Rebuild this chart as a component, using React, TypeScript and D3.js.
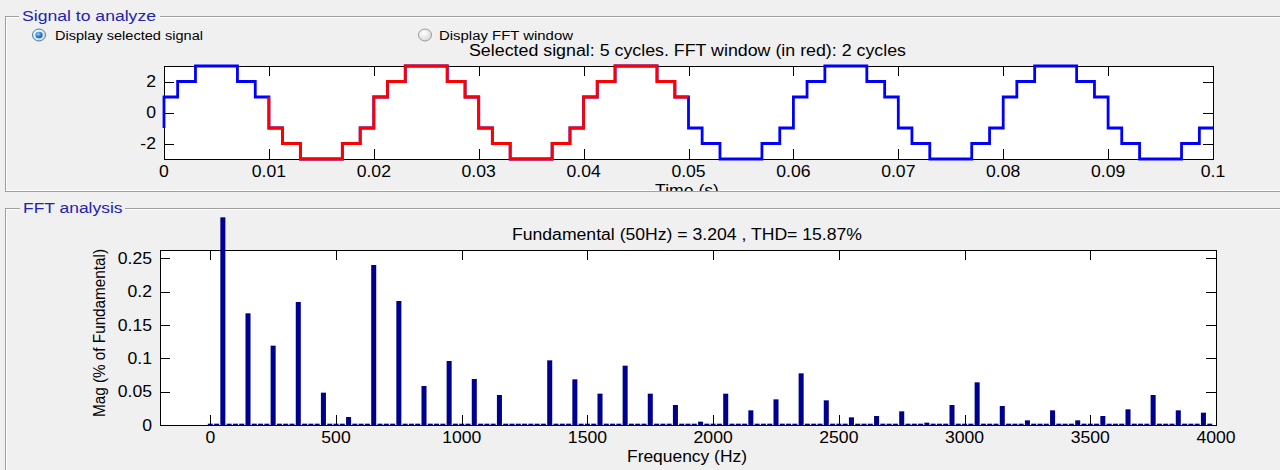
import React from "react";
import * as d3 from "d3";

// ---------- DATA ----------
// One cycle of the stepped signal: switching instants (s) within a 20 ms period and the level after each switch
const cycleSwitchTimes = [0, 0.0013, 0.003, 0.007, 0.0087, 0.01, 0.0113, 0.013, 0.017, 0.0187];
const cycleLevels = [1, 2, 3, 2, 1, -1, -2, -3, -2, -1];
const signalPeriod = 0.02;
const signalCycles = 5;
const fftWindowStart = 0.01;
const fftWindowEnd = 0.05;
const timeTicks = [0, 0.01, 0.02, 0.03, 0.04, 0.05, 0.06, 0.07, 0.08, 0.09, 0.1];
const timeTickLabels = ["0", "0.01", "0.02", "0.03", "0.04", "0.05", "0.06", "0.07", "0.08", "0.09", "0.1"];
const levelTicks = [-2, 0, 2];

// FFT: odd-harmonic frequencies (Hz) and magnitudes
const harmonicFreqs = [
  50, 150, 250, 350, 450, 550, 650, 750, 850, 950, 1050, 1150, 1250, 1350, 1450, 1550, 1650, 1750, 1850, 1950,
  2050, 2150, 2250, 2350, 2450, 2550, 2650, 2750, 2850, 2950, 3050, 3150, 3250, 3350, 3450, 3550, 3650, 3750,
  3850, 3950,
];
const harmonicMags = [
  0.3115, 0.1675, 0.119, 0.1845, 0.0485, 0.012, 0.24, 0.186, 0.0585, 0.096, 0.069, 0.045, 0.002, 0.097, 0.0685,
  0.047, 0.089, 0.047, 0.03, 0.005, 0.047, 0.022, 0.0385, 0.0775, 0.037, 0.0115, 0.0135, 0.0205, 0.0035, 0.03,
  0.064, 0.0285, 0.007, 0.022, 0.007, 0.0135, 0.0235, 0.045, 0.022, 0.0185,
];
// every other 25 Hz bin (0 .. 3975 Hz) shows the same tiny residual
const binStep = 25;
const binMax = 3975;
const residualMag = 0.002;
const freqTicks = [0, 500, 1000, 1500, 2000, 2500, 3000, 3500, 4000];
const magTicks = [0, 0.05, 0.1, 0.15, 0.2, 0.25];
const magTickLabels = ["0", "0.05", "0.1", "0.15", "0.2", "0.25"];

// ---------- LAYOUT ----------
const W = 1280;
const H = 470;
const BG = "#f0f0f0";
const FONT = "'Liberation Sans', Arial, Helvetica, sans-serif";
const SX = 1.1; // horizontal stretch of the screenshot text
const TICK = 10;

const top = { x0: 164, x1: 1213, y0: 66, y1: 159 };
const bot = { x0: 160, x1: 1216, y0: 250, y1: 425 };

type Pt = { t: number; v: number };

function buildSignal(): Pt[] {
  const pts: Pt[] = [];
  let prev = cycleLevels[cycleLevels.length - 1];
  pts.push({ t: 0, v: prev });
  for (let c = 0; c < signalCycles; c++) {
    cycleSwitchTimes.forEach((st, i) => {
      const t = c * signalPeriod + st;
      pts.push({ t, v: prev });
      pts.push({ t, v: cycleLevels[i] });
      prev = cycleLevels[i];
    });
  }
  pts.push({ t: signalCycles * signalPeriod, v: prev });
  return pts;
}

function Txt(props: {
  x: number;
  y: number;
  anchor?: string;
  size?: number;
  sx?: number;
  fill?: string;
  len?: number;
  children: React.ReactNode;
}) {
  const { x, y, anchor = "start", size = 16, sx = SX, fill = "#000", len, children } = props;
  if (len) {
    return (
      <text
        x={x}
        y={y}
        textAnchor={anchor as any}
        fontSize={size}
        fontFamily={FONT}
        fill={fill}
        textLength={len}
        lengthAdjust="spacingAndGlyphs"
      >
        {children}
      </text>
    );
  }
  return (
    <text
      transform={`translate(${x},${y}) scale(${sx},1)`}
      textAnchor={anchor as any}
      fontSize={size}
      fontFamily={FONT}
      fill={fill}
    >
      {children}
    </text>
  );
}

function Radio({ cx, cy, on }: { cx: number; cy: number; on: boolean }) {
  return (
    <g>
      <ellipse cx={cx} cy={cy} rx={6.5} ry={6} fill="url(#radioBg)" stroke={on ? "#3c7fb1" : "#9a9a9a"} strokeWidth={1} />
      {on && <ellipse cx={cx} cy={cy} rx={3.6} ry={3.3} fill="url(#radioDot)" />}
    </g>
  );
}

export default function App() {
  const sig = buildSignal();
  const red = sig.filter(
    (p, i) =>
      p.t >= fftWindowStart - 1e-9 &&
      (p.t < fftWindowEnd - 1e-9 || (Math.abs(p.t - fftWindowEnd) < 1e-9 && sig[i - 1].t < fftWindowEnd - 1e-9))
  );

  const xT = d3.scaleLinear().domain([0, 0.1]).range([top.x0, top.x1]);
  const yT = d3.scaleLinear().domain([-3, 3]).range([top.y1, top.y0]);
  const line = d3
    .line<Pt>()
    .x((d) => xT(d.t))
    .y((d) => yT(d.v));

  const xF = d3.scaleLinear().domain([-200, 4000]).range([bot.x0, bot.x1]);
  const yF = d3.scaleLinear().domain([0, 0.2625]).range([bot.y1, bot.y0]);

  const bins = d3.range(0, binMax + 1, binStep).map((f) => {
    const hi = harmonicFreqs.indexOf(f);
    return { f, m: hi >= 0 ? harmonicMags[hi] : residualMag };
  });
  const barHalf = 10; // 0.8 of the 25 Hz bin

  const r = (v: number) => Math.round(v) + 0.5;

  return (
    <svg
      width={W}
      height={H}
      style={{ position: "absolute", left: 0, top: 0, display: "block" }}
      xmlns="http://www.w3.org/2000/svg"
    >
      <defs>
        <radialGradient id="radioBg" cx="40%" cy="35%" r="70%">
          <stop offset="0%" stopColor="#ffffff" />
          <stop offset="100%" stopColor="#d6d6d6" />
        </radialGradient>
        <radialGradient id="radioDot" cx="40%" cy="35%" r="70%">
          <stop offset="0%" stopColor="#8fd0ff" />
          <stop offset="60%" stopColor="#2a7ad0" />
          <stop offset="100%" stopColor="#104f9a" />
        </radialGradient>
        <clipPath id="topPanelClip">
          <rect x={0} y={0} width={W} height={191} />
        </clipPath>
      </defs>
      <rect x={0} y={0} width={W} height={H} fill={BG} />

      {/* ---------- Top panel ---------- */}
      <rect x={5.5} y={16.5} width={1300} height={175} fill="none" stroke="#a0a0a0" />
      <rect x={6.5} y={17.5} width={1300} height={173} fill="none" stroke="#ffffff" />
      <rect x={19} y={8} width={141} height={16} fill={BG} />
      <Txt x={22} y={21} size={14} fill="#2323b0" len={134}>
        Signal to analyze
      </Txt>
      <Radio cx={39} cy={35} on={true} />
      <Txt x={55} y={39.5} size={12.5} len={148}>
        Display selected signal
      </Txt>
      <Radio cx={425} cy={35} on={false} />
      <Txt x={439} y={39.5} size={12.5} len={134}>
        Display FFT window
      </Txt>
      <Txt x={687.5} y={56} anchor="middle" size={16} len={437}>
        Selected signal: 5 cycles. FFT window (in red): 2 cycles
      </Txt>

      <rect x={top.x0 + 0.5} y={top.y0 + 0.5} width={top.x1 - top.x0} height={top.y1 - top.y0} fill="#fff" stroke="#000" />
      {timeTicks.map((t) => (
        <g key={"tt" + t}>
          <line x1={r(xT(t))} x2={r(xT(t))} y1={top.y1} y2={top.y1 - TICK} stroke="#000" />
          <line x1={r(xT(t))} x2={r(xT(t))} y1={top.y0} y2={top.y0 + TICK} stroke="#000" />
        </g>
      ))}
      {levelTicks.map((v) => (
        <g key={"lt" + v}>
          <line x1={top.x0} x2={top.x0 + TICK} y1={r(yT(v))} y2={r(yT(v))} stroke="#000" />
          <line x1={top.x1} x2={top.x1 - TICK} y1={r(yT(v))} y2={r(yT(v))} stroke="#000" />
          <Txt x={156} y={yT(v) + 5.5} anchor="end">
            {String(v)}
          </Txt>
        </g>
      ))}
      {timeTicks.map((t, i) => (
        <Txt key={"tl" + t} x={xT(t)} y={177} anchor="middle">
          {timeTickLabels[i]}
        </Txt>
      ))}
      <path d={line(sig) || ""} fill="none" stroke="#0000ff" strokeWidth={2.8} strokeLinejoin="miter" />
      <path d={line(red) || ""} fill="none" stroke="#ff0000" strokeWidth={2.8} strokeLinejoin="miter" />
      <g clipPath="url(#topPanelClip)">
        <Txt x={687} y={196} anchor="middle">
          Time (s)
        </Txt>
      </g>

      {/* ---------- Bottom panel ---------- */}
      <rect x={5.5} y={208.5} width={1300} height={300} fill="none" stroke="#a0a0a0" />
      <rect x={6.5} y={209.5} width={1300} height={298} fill="none" stroke="#ffffff" />
      <rect x={20} y={200} width={105} height={16} fill={BG} />
      <Txt x={23} y={213} size={14} fill="#2323b0" len={99.5}>
        FFT analysis
      </Txt>
      <Txt x={687} y={240} anchor="middle" size={16} len={350}>
        Fundamental (50Hz) = 3.204 , THD= 15.87%
      </Txt>

      <rect x={bot.x0 + 0.5} y={bot.y0 + 0.5} width={bot.x1 - bot.x0} height={bot.y1 - bot.y0} fill="#fff" stroke="#000" />
      {freqTicks.map((f) => (
        <g key={"ft" + f}>
          <line x1={r(xF(f))} x2={r(xF(f))} y1={bot.y1} y2={bot.y1 - TICK} stroke="#000" />
          <line x1={r(xF(f))} x2={r(xF(f))} y1={bot.y0} y2={bot.y0 + TICK} stroke="#000" />
          <Txt x={xF(f)} y={443} anchor="middle">
            {String(f)}
          </Txt>
        </g>
      ))}
      {magTicks.map((m, i) => (
        <g key={"mt" + m}>
          <line x1={bot.x0} x2={bot.x0 + TICK} y1={r(yF(m))} y2={r(yF(m))} stroke="#000" />
          <line x1={bot.x1} x2={bot.x1 - TICK} y1={r(yF(m))} y2={r(yF(m))} stroke="#000" />
          <Txt x={152} y={yF(m) + 5.5} anchor="end">
            {magTickLabels[i]}
          </Txt>
        </g>
      ))}
      {bins.map((b) => (
        <rect
          key={"b" + b.f}
          x={xF(b.f - barHalf)}
          y={yF(b.m)}
          width={xF(b.f + barHalf) - xF(b.f - barHalf)}
          height={yF(0) - yF(b.m)}
          fill="#00008f"
        />
      ))}
      <line x1={bot.x0} x2={bot.x1} y1={bot.y1 + 0.5} y2={bot.y1 + 0.5} stroke="#000" />
      <Txt x={687} y={462} anchor="middle" size={16} len={120}>
        Frequency (Hz)
      </Txt>
      <text
        transform="translate(105,333) rotate(-90)"
        textAnchor="middle"
        fontSize={16}
        fontFamily={FONT}
        textLength={168}
        lengthAdjust="spacingAndGlyphs"
      >
        Mag (% of Fundamental)
      </text>
    </svg>
  );
}
